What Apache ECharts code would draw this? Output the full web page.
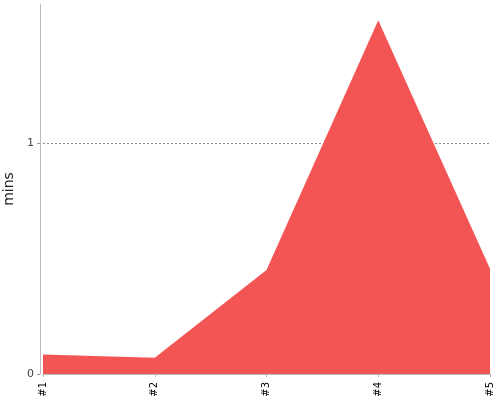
<!DOCTYPE html>
<html lang="en">
<head>
    <meta charset="UTF-8">
    <script src="https://cdn.jsdelivr.net/npm/echarts@6.0.0/dist/echarts.min.js"></script>
    <title>mins</title>
</head>
<body style="margin: 0">
<div id="container" style="width: 500px; height: 400px"></div>
<script>
    // data
    var categories = ['#1', '#2', '#3', '#4', '#5'];
    var minsValues = [0.084, 0.07, 0.45, 1.53, 0.455];
    var yTicks = [0, 1];

    var myChart = echarts.init(document.getElementById('container'));

    var option = {
        animation: false,
        grid: {
            left: 43,
            right: 10,
            top: 4,
            bottom: 26,
            containLabel: false,
            outerBoundsMode: 'none'
        },
        xAxis: {
            type: 'category',
            boundaryGap: false,
            data: categories,
            offset: 4,
            axisLine: { lineStyle: { color: '#bbb', width: 1 } },
            axisTick: { length: 3, lineStyle: { color: '#bbb' } },
            axisLabel: {
                rotate: 90,
                fontSize: 10,
                color: '#000',
                margin: 4,
                fontFamily: 'DejaVu Sans'
            },
            splitLine: { show: false }
        },
        yAxis: {
            type: 'value',
            min: 0,
            max: 1.6,
            interval: 1,
            offset: 3,
            name: 'mins',
            nameLocation: 'middle',
            nameGap: 18,
            nameTextStyle: { fontSize: 14, color: '#222', fontFamily: 'DejaVu Sans' },
            axisLine: { show: true, lineStyle: { color: '#bbb', width: 1 } },
            axisTick: {
                show: true,
                length: 3,
                customValues: yTicks,
                lineStyle: { color: '#999' }
            },
            axisLabel: {
                customValues: yTicks,
                fontSize: 11,
                color: '#444',
                margin: 6,
                fontFamily: 'DejaVu Sans'
            },
            splitLine: {
                show: true,
                showMinLine: false,
                lineStyle: { color: '#8a8a8a', type: [2, 2], width: 1 }
            }
        },
        series: [{
            name: 'mins',
            type: 'line',
            data: minsValues,
            symbol: 'none',
            lineStyle: { width: 0 },
            itemStyle: { color: '#f35555' },
            areaStyle: { color: '#f35555', opacity: 1 }
        }]
    };

    myChart.setOption(option);
</script>
</body>
</html>
